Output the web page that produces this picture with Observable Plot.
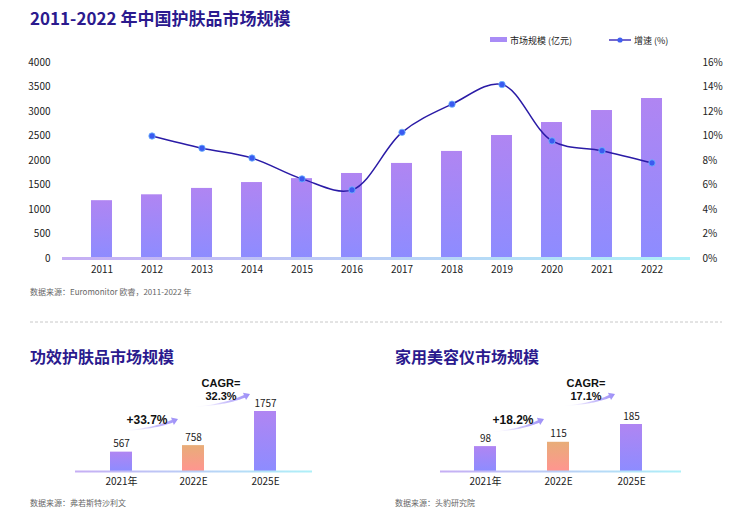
<!DOCTYPE html>
<html><head><meta charset="utf-8">
<script src="https://cdn.jsdelivr.net/npm/d3@7"></script>
<script src="https://cdn.jsdelivr.net/npm/@observablehq/plot@0.6"></script>
<style>
body{margin:0;background:#fff;}
#root{position:relative;width:748px;height:519px;overflow:hidden;font-family:"Noto Sans CJK SC","Noto Sans",sans-serif;}
#root > *{position:absolute;}
</style></head><body><div id="root"></div>
<script>
// ---- data ----
const years = [2011,2012,2013,2014,2015,2016,2017,2018,2019,2020,2021,2022];
const marketSize = [1180,1300,1430,1550,1630,1735,1940,2185,2510,2775,3020,3265];
const growth = [null,10.0,9.0,8.2,6.5,5.6,10.3,12.6,14.2,9.6,8.8,7.8];
const leftTicks = [0,500,1000,1500,2000,2500,3000,3500,4000];
const rightTicks = [0,2,4,6,8,10,12,14,16];
const smallCats = ["2021年","2022E","2025E"];
const effValues = [567,758,1757];
const devValues = [98,115,185];
const projected = [false,true,false];

const FONT = '"Noto Sans CJK SC","Noto Sans",sans-serif';
const LATIN = '"Liberation Sans",Arial,sans-serif';
const root = document.getElementById("root");

function addDefs(svg, html){ d3.select(svg).insert("defs", ":first-child").html(html); }
function place(el, left, top){ el.style.left = left + "px"; el.style.top = top + "px"; root.appendChild(el); }

// ---- decoration layer (titles, notes, legend, arrows) ----
const deco = d3.create("svg").attr("width",748).attr("height",519);
const dd = deco.append("defs");
const T = (x,y,txt,size,opts={}) => deco.append("text").attr("x",x).attr("y",y).text(txt)
  .attr("font-size",size).attr("font-family",opts.font||FONT).attr("fill",opts.fill||"#222")
  .attr("font-weight",opts.weight||"normal").attr("text-anchor",opts.anchor||"start");

T(30,25,"2011-2022 年中国护肤品市场规模",17,{weight:"bold",fill:"#2b1a8e"});
// legend
deco.append("rect").attr("x",490).attr("y",37).attr("width",17).attr("height",5).attr("fill","#a98cf6");
T(510,43.5,"市场规模 (亿元)",9,{fill:"#222"});
deco.append("line").attr("x1",609).attr("x2",631).attr("y1",40).attr("y2",40).attr("stroke","#3828b8").attr("stroke-width",1.4);
deco.append("circle").attr("cx",620).attr("cy",40).attr("r",2.6).attr("fill","#3f5ff0");
T(634,43.5,"增速 (%)",9,{fill:"#222"});
// source & divider
T(30,295,"数据来源：Euromonitor 欧睿，2011-2022 年",8,{fill:"#666"});
deco.append("line").attr("x1",30).attr("x2",722).attr("y1",322).attr("y2",322)
  .attr("stroke","#c8c8c8").attr("stroke-dasharray","3,2").attr("stroke-width",1);
T(30,363,"功效护肤品市场规模",16,{weight:"bold",fill:"#2b1a8e"});
T(395,363,"家用美容仪市场规模",16,{weight:"bold",fill:"#2b1a8e"});
T(30,506,"数据来源：弗若斯特沙利文",8,{fill:"#666"});
T(395,506,"数据来源：头豹研究院",8,{fill:"#666"});

let swid = 0;
function swoosh(x0,y0,x1,y1){
  const id = "sw"+(swid++);
  const g = dd.append("linearGradient").attr("id",id).attr("gradientUnits","userSpaceOnUse")
    .attr("x1",x0).attr("y1",y0).attr("x2",x1).attr("y2",y1);
  g.append("stop").attr("offset",0).attr("stop-color","#ffffff").attr("stop-opacity",0);
  g.append("stop").attr("offset",0.5).attr("stop-color","#d6cefc");
  g.append("stop").attr("offset",1).attr("stop-color","#9b8df7");
  const cx = x0 + (x1-x0)*0.55, cy = y0 - (y0-y1)*0.12;
  let tx = x1-cx, ty = y1-cy; const L = Math.hypot(tx,ty); tx/=L; ty/=L;
  const hl = 6, hw = 4;
  const bx = x1 - tx*hl, by = y1 - ty*hl;
  const up=[], lo=[]; const N=24;
  for(let i=0;i<=N;i++){
    const t=i/N;
    const px=(1-t)*(1-t)*x0+2*(1-t)*t*cx+t*t*bx, py=(1-t)*(1-t)*y0+2*(1-t)*t*cy+t*t*by;
    const dx=2*(1-t)*(cx-x0)+2*t*(bx-cx), dy=2*(1-t)*(cy-y0)+2*t*(by-cy);
    const l=Math.hypot(dx,dy), w=1.4*t;
    up.push([px - dy/l*w, py + dx/l*w]); lo.push([px + dy/l*w, py - dx/l*w]);
  }
  const nx=-ty, ny=tx;
  let p = "M"+up.map(q=>q.join(",")).join("L");
  p += `L${bx+nx*hw},${by+ny*hw}L${x1},${y1}L${bx-nx*hw},${by-ny*hw}`;
  p += "L"+lo.reverse().map(q=>q.join(",")).join("L")+"Z";
  deco.append("path").attr("d",p).attr("fill",`url(#${id})`);
}
swoosh(118,431,178,419); swoosh(190,407,250,394);
swoosh(488,432,544,419); swoosh(560,406,615,394);
const A = {weight:"bold",fill:"#111",anchor:"middle",font:LATIN};
T(147,424,"+33.7%",12,A);
T(221,386.5,"CAGR=",11,A);
T(221,399.5,"32.3%",11,A);
T(513,424,"+18.2%",12,A);
T(586,386.5,"CAGR=",11,A);
T(586,399.5,"17.1%",11,A);
place(deco.node(),0,0);

// ---- main chart ----
const mainData = years.map((y,i)=>({year:String(y), size:marketSize[i], growth:growth[i]}));
const lineData = mainData.filter(d=>d.growth!=null);
const xMain = {type:"band", domain: years.map(String), paddingInner:0.59, paddingOuter:0.465};
const style = {fontFamily:FONT,fontSize:"10px",color:"#222",background:"transparent",overflow:"visible"};
const common = {width:748,height:245,marginTop:22,marginBottom:27,marginLeft:62,marginRight:58,style};

const barsSvg = Plot.plot({
  ...common,
  x:{...xMain, tickSize:0, tickPadding:7, label:null},
  y:{domain:[0,4000], ticks:leftTicks, tickFormat:d=>String(d), tickSize:0, tickPadding:12, label:null},
  marks:[
    Plot.barY(mainData,{x:"year",y:"size",fill:"url(#gBar)"}),
    Plot.ruleY([0],{stroke:"url(#gBase)",strokeWidth:3})
  ]
});
addDefs(barsSvg, `<linearGradient id="gBar" x1="0" y1="0" x2="0" y2="1"><stop offset="0" stop-color="#b085f2"/><stop offset="1" stop-color="#8d8cff"/></linearGradient>
<linearGradient id="gBase" gradientUnits="userSpaceOnUse" x1="62" y1="0" x2="690" y2="0"><stop offset="0" stop-color="#c6aef4"/><stop offset="1" stop-color="#aef0f8"/></linearGradient>`);
place(barsSvg,0,40);

const lineSvg = Plot.plot({
  ...common,
  x:{...xMain, axis:null},
  y:{domain:[0,16], ticks:rightTicks, tickFormat:d=>d+"%", axis:"right", tickSize:0, tickPadding:12, label:null},
  marks:[
    Plot.line(lineData,{x:"year",y:"growth",curve:"catmull-rom",stroke:"#2a1ba6",strokeWidth:1.5}),
    Plot.dot(lineData,{x:"year",y:"growth",r:3.2,fill:"#3a5af0",stroke:"#6fb8ff",strokeWidth:0.8})
  ]
});
place(lineSvg,0,40);

// ---- small charts ----
function small(vals, left, mL, mR, mT, align, idp){
  const data = smallCats.map((c,i)=>({cat:c, v:vals[i], fill: projected[i] ? `url(#${idp}o)` : `url(#${idp}p)`}));
  const svg = Plot.plot({
    width:374, height:120, marginTop:mT, marginBottom:29, marginLeft:mL, marginRight:mR, style,
    color:{type:"identity"},
    x:{type:"band", domain:smallCats, paddingInner:0.694, paddingOuter:0.49, align, tickSize:0, tickPadding:6, label:null},
    y:{domain:[0, d3.max(vals)], axis:null},
    marks:[
      Plot.barY(data,{x:"cat",y:"v",fill:"fill"}),
      Plot.ruleY([0],{stroke:`url(#${idp}b)`,strokeWidth:2}),
      Plot.text(data,{x:"cat",y:"v",text:d=>String(d.v),dy:-8,fill:"#222",fontSize:10})
    ]
  });
  addDefs(svg, `<linearGradient id="${idp}p" x1="0" y1="0" x2="0" y2="1"><stop offset="0" stop-color="#b085f2"/><stop offset="1" stop-color="#8d8cff"/></linearGradient>
<linearGradient id="${idp}o" x1="0" y1="0" x2="0" y2="1"><stop offset="0" stop-color="#e8ad78"/><stop offset="1" stop-color="#ff9590"/></linearGradient>
<linearGradient id="${idp}b" gradientUnits="userSpaceOnUse" x1="${mL}" y1="0" x2="${374-mR}" y2="0"><stop offset="0" stop-color="#c6aef4"/><stop offset="1" stop-color="#aef0f8"/></linearGradient>`);
  place(svg,left,380);
}
small(effValues, 0, 75, 62, 31, 0.49, "ef");
small(devValues, 374, 66, 67, 44, 0.47, "dv");
</script></body></html>
